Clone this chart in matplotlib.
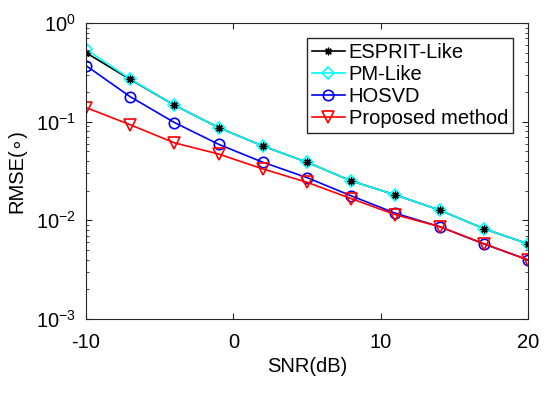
import numpy as np
from matplotlib import pyplot as plt

plt.rcParams['font.family'] = ['Liberation Sans', 'DejaVu Sans']
plt.rcParams['mathtext.fontset'] = 'custom'
plt.rcParams['mathtext.rm'] = 'Liberation Sans'
plt.rcParams['axes.unicode_minus'] = False

snr = [-10, -7, -4, -1, 2, 5, 8, 11, 14, 17, 20]
esprit = [0.50, 0.268, 0.147, 0.087, 0.0567, 0.0388, 0.0251, 0.0181, 0.0127, 0.00824, 0.00577]
pm = [0.54, 0.271, 0.147, 0.087, 0.0567, 0.0388, 0.0251, 0.0181, 0.0127, 0.00824, 0.00577]
hosvd = [0.37, 0.179, 0.098, 0.059, 0.0388, 0.0271, 0.0177, 0.0118, 0.00863, 0.00577, 0.00397]
proposed = [0.139, 0.093, 0.061, 0.047, 0.0332, 0.0243, 0.0166, 0.0114, 0.00863, 0.00580, 0.00397]

fs = 14.5
fig = plt.figure(figsize=(5.5, 3.93), dpi=100)
ax = fig.add_axes([86/550, 1-319/393, (528-86)/550, (319-23)/393])

lw = 1.2
star = (8, 2, 0)
ax.semilogy(snr, esprit, '-', marker=star, color='k', lw=lw, ms=5.5, mew=0.9, label='ESPRIT-Like')
ax.semilogy(snr, pm, '-D', color='cyan', lw=lw, ms=6.5, mfc='none', mew=1.2, label='PM-Like')
ax.semilogy(snr, hosvd, '-o', color='blue', lw=lw, ms=7.5, mfc='none', mew=1.2, label='HOSVD')
ax.semilogy(snr, proposed, '-v', color='red', lw=lw, ms=8, mfc='none', mew=1.2, label='Proposed method')
# stars again on top so they show inside the diamonds
ax.semilogy(snr, esprit, ls='none', marker=star, color='k', ms=5.5, mew=0.9)

ax.set_xlim(-10, 20)
ax.set_ylim(1e-3, 1)
ax.set_xticks([-10, 0, 10, 20])
ax.set_xlabel('SNR(dB)', fontsize=fs, labelpad=4)
ax.set_ylabel('RMSE(\u2218)', fontsize=fs, labelpad=7)
ax.tick_params(which='both', direction='in', top=True, right=True, labelsize=fs,
               color='#262626')
ax.tick_params(axis='x', pad=10)
ax.tick_params(axis='y', pad=7)
ax.tick_params(which='major', length=4)
ax.tick_params(which='minor', length=2.2)
for s in ax.spines.values():
    s.set_linewidth(0.8)
    s.set_color('#262626')

ax.legend(loc='upper right', fontsize=fs, fancybox=False, edgecolor='#262626',
          framealpha=1, handlelength=1.6, handletextpad=0.2, borderpad=0.25,
          labelspacing=0.15, borderaxespad=0, bbox_to_anchor=(0.966, 0.949))

fig.savefig('out.png', dpi=100)
